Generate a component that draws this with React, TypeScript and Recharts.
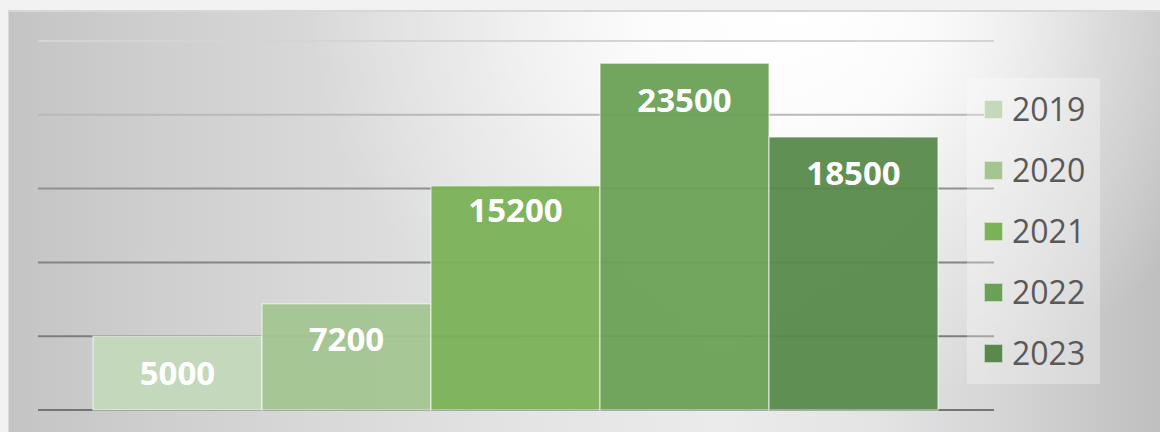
import React from 'react';
import { BarChart, Bar, XAxis, YAxis, CartesianGrid, LabelList } from 'recharts';

const categories = ['Total'];
const seriesNames = ['2019', '2020', '2021', '2022', '2023'];
const seriesValues = [5000, 7200, 15200, 23500, 18500];
const yTicks = [0, 5000, 10000, 15000, 20000, 25000];
const seriesColors = ['#c3d9ba', '#a4c591', '#7bb157', '#6aa156', '#598a4b'];
const labelOffsets = [25, 24, 13, 25, 25];

const data = categories.map((c) => {
  const row: Record<string, string | number> = { name: c };
  seriesNames.forEach((s, i) => {
    row[s] = seriesValues[i];
  });
  return row;
});

const FONT = '"Open Sans", "Liberation Sans", sans-serif';

function Legend() {
  return (
    <div
      style={{
        position: 'absolute',
        left: 958,
        top: 66,
        width: 133,
        height: 306,
        background: 'rgba(255,255,255,0.3)',
      }}
    >
      {seriesNames.map((s, i) => (
        <div
          key={s}
          style={{
            position: 'absolute',
            left: 0,
            top: 31 + i * 61 - 20,
            height: 40,
            display: 'flex',
            alignItems: 'center',
          }}
        >
          <div
            style={{
              marginLeft: 17,
              width: 19,
              height: 19,
              background: seriesColors[i],
              border: '1px solid rgba(255,255,255,0.6)',
              boxSizing: 'border-box',
            }}
          />
          <span
            style={{
              marginLeft: 9,
              fontFamily: FONT,
              fontSize: 32,
              color: '#595959',
              lineHeight: '40px',
            }}
          >
            {s}
          </span>
        </div>
      ))}
    </div>
  );
}

export default function App() {
  return (
    <div
      style={{
        position: 'absolute',
        left: 0,
        top: 0,
        width: 1160,
        height: 432,
        background: '#f2f2f2',
        overflow: 'hidden',
      }}
    >
      <div
        style={{
          position: 'absolute',
          left: 8,
          top: 10,
          width: 1152,
          height: 422,
          borderTop: '2px solid #d6d6d6',
          borderLeft: '1px solid #d9d9d9',
          boxSizing: 'border-box',
          background:
            'radial-gradient(ellipse 42% 95% at 68% 0%, rgba(255,255,255,1) 0%, rgba(255,255,255,0.85) 30%, rgba(255,255,255,0.35) 65%, rgba(255,255,255,0) 100%), linear-gradient(90deg, #c4c4c4 0%, #cecece 12%, #d9d9d9 28%, #e4e4e4 45%, #ebebeb 62%, #e4e4e4 75%, #d4d4d4 87%, #bfbfbf 100%)',
        }}
      >
        <div style={{ position: 'absolute', left: -1, top: -1 }}>
          <BarChart
            width={1152}
            height={421}
            data={data}
            margin={{ top: 30, left: 30, right: 166, bottom: 22 }}
            barGap={0}
            barCategoryGap={55}
          >
            <defs>
              <linearGradient id="gridGrad" gradientUnits="userSpaceOnUse" x1="0" y1="30" x2="0" y2="399">
                <stop offset="0" stopColor="#d4d4d4" />
                <stop offset="0.2" stopColor="#b9b9b9" />
                <stop offset="0.42" stopColor="#8c8c8c" />
                <stop offset="1" stopColor="#757575" />
              </linearGradient>
            </defs>
            <CartesianGrid vertical={false} stroke="url(#gridGrad)" strokeWidth={2} />
            <XAxis dataKey="name" hide />
            <YAxis hide domain={[0, 25000]} ticks={yTicks} />
            {seriesNames.map((s, i) => (
              <Bar
                key={s}
                dataKey={s}
                fill={seriesColors[i]}
                fillOpacity={0.95}
                stroke="rgba(255,255,255,0.5)"
                strokeWidth={1.5}
                isAnimationActive={false}
              >
                <LabelList
                  dataKey={s}
                  position="insideTop"
                  offset={labelOffsets[i]}
                  fill="#ffffff"
                  style={{ fontFamily: FONT, fontSize: 33, fontWeight: 700, fill: '#ffffff' }}
                />
              </Bar>
            ))}
          </BarChart>
        </div>
        <Legend />
      </div>
    </div>
  );
}
